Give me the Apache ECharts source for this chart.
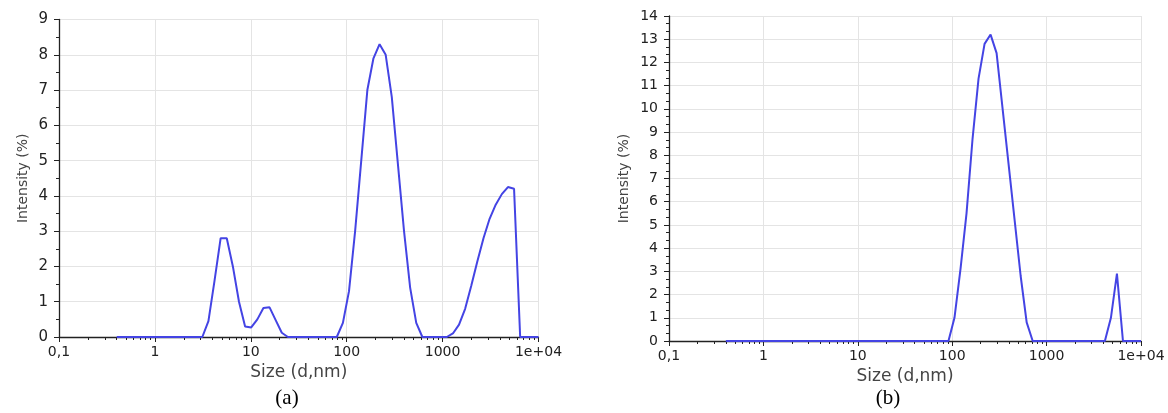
<!DOCTYPE html>
<html>
<head>
<meta charset="utf-8">
<script src="https://cdn.jsdelivr.net/npm/echarts@6/dist/echarts.min.js"></script>
<style>
html,body{margin:0;padding:0;background:#fff;}
#c{width:1168px;height:413px;}
</style>
</head>
<body>
<div id="c"></div>
<script>
// Size classes (d.nm)
var sizes = [0.4, 0.4632, 0.5365, 0.6213, 0.7195, 0.8332, 0.9649, 1.117, 1.294, 1.499,
  1.736, 2.01, 2.328, 2.696, 3.122, 3.615, 4.187, 4.849, 5.615, 6.503,
  7.531, 8.721, 10.1, 11.7, 13.54, 15.69, 18.17, 21.04, 24.36, 28.21,
  32.67, 37.84, 43.82, 50.75, 58.77, 68.06, 78.82, 91.28, 105.7, 122.4,
  141.8, 164.2, 190.1, 220.2, 255.0, 295.3, 342.0, 396.1, 458.7, 531.2,
  615.1, 712.4, 825.0, 955.4, 1106, 1281, 1484, 1718, 1990, 2305,
  2669, 3091, 3580, 4145, 4801, 5560, 6439, 7456, 8635, 10000];

// Intensity (%) for chart (a)
var intensityA = [0, 0, 0, 0, 0, 0, 0, 0, 0, 0,
  0, 0, 0, 0, 0, 0.45, 1.6, 2.8, 2.8, 2.0,
  1.0, 0.3, 0.27, 0.5, 0.82, 0.84, 0.48, 0.12, 0, 0,
  0, 0, 0, 0, 0, 0, 0, 0.4, 1.3, 3.0,
  5.0, 7.0, 7.9, 8.3, 8.0, 6.8, 4.9, 3.0, 1.4, 0.4,
  0, 0, 0, 0, 0, 0.1, 0.35, 0.8, 1.45, 2.15,
  2.8, 3.35, 3.75, 4.05, 4.25, 4.2, 0, 0, 0, 0];

// Intensity (%) for chart (b)
var intensityB = [0, 0, 0, 0, 0, 0, 0, 0, 0, 0,
  0, 0, 0, 0, 0, 0, 0, 0, 0, 0,
  0, 0, 0, 0, 0, 0, 0, 0, 0, 0,
  0, 0, 0, 0, 0, 0, 0, 0, 1.0, 3.1,
  5.5, 8.7, 11.3, 12.8, 13.2, 12.4, 10.0, 7.6, 5.2, 2.8,
  0.8, 0, 0, 0, 0, 0, 0, 0, 0, 0,
  0, 0, 0, 0, 1.0, 2.9, 0, 0, 0, 0];

// x-axis tick values and labels
var xTickValues = [0.1, 1, 10, 100, 1000, 10000];
var xTickLabels = ['0,1', '1', '10', '100', '1000', '1e+04'];
var xMinorTicks = [0.2, 0.3, 0.4, 0.5, 0.6, 0.7, 0.8, 0.9,
  2, 3, 4, 5, 6, 7, 8, 9,
  20, 30, 40, 50, 60, 70, 80, 90,
  200, 300, 400, 500, 600, 700, 800, 900,
  2000, 3000, 4000, 5000, 6000, 7000, 8000, 9000];
var yMaxA = 9, yMaxB = 14;
var xTitle = 'Size (d,nm)';
var yTitle = 'Intensity (%)';
var captions = ['(a)', '(b)'];

function pairs(ys) {
  var out = [];
  for (var i = 0; i < sizes.length; i++) out.push([sizes[i], ys[i]]);
  return out;
}

function fmtX(v) {
  for (var i = 0; i < xTickValues.length; i++) {
    if (Math.abs(Math.log10(v) - Math.log10(xTickValues[i])) < 1e-6) return xTickLabels[i];
  }
  return '';
}

var FONT = 'DejaVu Sans';
var gridColor = '#e4e4e4';

function majorX(gi) {
  return {
    type: 'log', logBase: 10, gridIndex: gi, min: 0.1, max: 10000, position: 'bottom',
    name: xTitle, nameLocation: 'middle', nameGap: 22,
    nameTextStyle: { fontFamily: FONT, fontSize: 17, color: '#444' },
    axisLine: { show: true, onZero: false, lineStyle: { color: '#222', width: 1.3 } },
    axisTick: { show: true, length: 5, inside: false, lineStyle: { color: '#222' } },
    axisLabel: { show: true, margin: 8, fontFamily: FONT, fontSize: 14, color: '#222', formatter: fmtX },
    splitLine: { show: true, lineStyle: { color: gridColor, width: 1 } },
    minorTick: { show: false }
  };
}
function minorX(gi) {
  return {
    type: 'log', logBase: 10, gridIndex: gi, min: 0.1, max: 10000, position: 'bottom',
    axisLine: { show: false, onZero: false },
    axisTick: { show: true, length: 3, customValues: xMinorTicks, lineStyle: { color: '#222' } },
    axisLabel: { show: false },
    splitLine: { show: false }
  };
}
function yAx(gi, max, gap, minorSplit, fs) {
  return {
    type: 'value', gridIndex: gi, min: 0, max: max, interval: 1,
    name: yTitle, nameLocation: 'middle', nameGap: gap,
    nameTextStyle: { fontFamily: FONT, fontSize: 14, color: '#444' },
    axisLine: { show: true, onZero: false, lineStyle: { color: '#222', width: 1.3 } },
    axisTick: { show: true, length: 5, lineStyle: { color: '#222' } },
    minorTick: { show: true, splitNumber: minorSplit, length: 3, lineStyle: { color: '#222' } },
    axisLabel: { margin: 11, fontFamily: FONT, fontSize: fs, color: '#222' },
    splitLine: { show: true, lineStyle: { color: gridColor, width: 1 } }
  };
}

var lineStyle = { color: '#4444e4', width: 2 };

var chart = echarts.init(document.getElementById('c'), null, { renderer: 'canvas' });
chart.setOption({
  backgroundColor: '#ffffff',
  animation: false,
  grid: [
    { left: 59, top: 19.5, width: 479.5, height: 317.5, containLabel: false },
    { left: 669, top: 16, width: 472, height: 325, containLabel: false }
  ],
  xAxis: [majorX(0), minorX(0), majorX(1), minorX(1)],
  yAxis: [yAx(0, yMaxA, 29, 2, 15), yAx(1, yMaxB, 38, 3, 14)],
  series: [
    { type: 'line', xAxisIndex: 0, yAxisIndex: 0, data: pairs(intensityA), showSymbol: false,
      symbol: 'none', lineStyle: lineStyle, z: 5 },
    { type: 'line', xAxisIndex: 2, yAxisIndex: 1, data: pairs(intensityB), showSymbol: false,
      symbol: 'none', lineStyle: lineStyle, z: 5 }
  ],
  graphic: [
    { type: 'text', x: 287, y: 398, style: { text: captions[0], fill: '#000',
      font: '21px "Liberation Serif"', align: 'center', verticalAlign: 'middle' } },
    { type: 'text', x: 888, y: 398, style: { text: captions[1], fill: '#000',
      font: '21px "Liberation Serif"', align: 'center', verticalAlign: 'middle' } }
  ]
});
</script>
</body>
</html>
